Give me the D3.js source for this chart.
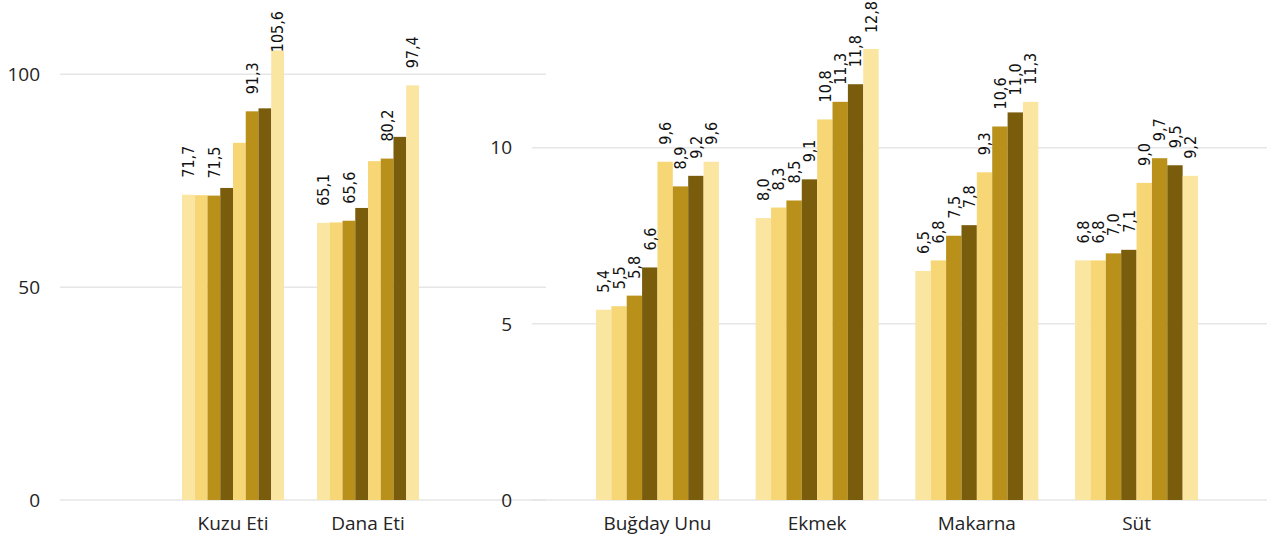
<!DOCTYPE html>
<html>
<head>
<meta charset="utf-8">
<script src="https://cdn.jsdelivr.net/npm/d3@7"></script>
<style>
  html, body { margin: 0; padding: 0; background: #fff; }
  svg { display: block; }
</style>
</head>
<body>
<svg id="chart" width="1283" height="536"></svg>
<script>
// ---- Data ----
const leftCategories = ["Kuzu Eti", "Dana Eti"];
const leftValues = [
  [71.7, 71.6, 71.5, 73.3, 83.9, 91.3, 92.0, 105.6],
  [65.1, 65.2, 65.6, 68.6, 79.6, 80.2, 85.3, 97.4]
];
// which values carry a visible data label in the left panel
const leftLabelShown = [
  [1, 0, 1, 0, 0, 1, 0, 1],
  [1, 0, 1, 0, 0, 1, 0, 1]
];
const leftTicks = [0, 50, 100];

const rightCategories = ["Buğday Unu", "Ekmek", "Makarna", "Süt"];
const rightValues = [
  [5.4, 5.5, 5.8, 6.6, 9.6, 8.9, 9.2, 9.6],
  [8.0, 8.3, 8.5, 9.1, 10.8, 11.3, 11.8, 12.8],
  [6.5, 6.8, 7.5, 7.8, 9.3, 10.6, 11.0, 11.3],
  [6.8, 6.8, 7.0, 7.1, 9.0, 9.7, 9.5, 9.2]
];
const rightTicks = [0, 5, 10];

const seriesColors = ["#FAE5A1", "#F7D775", "#B8901A", "#7A5D0C", "#F7D775", "#B8901A", "#7A5D0C", "#FAE5A1"];

// ---- Drawing ----
const svg = d3.select("#chart");
const fmt = v => d3.format(".1f")(v).replace(".", ",");
const seriesIdx = d3.range(8);

function panel(cfg) {
  const g = svg.append("g");
  const y = d3.scaleLinear().domain(cfg.yDomain).range([500, 0]);
  const x0 = d3.scaleBand().domain(cfg.categories).range(cfg.xRange).paddingInner(cfg.pad).paddingOuter(cfg.pad / 2);
  const x1 = d3.scaleBand().domain(seriesIdx).range([0, x0.bandwidth()]);

  // gridlines
  g.append("g").selectAll("line").data(cfg.ticks).join("line")
    .attr("x1", cfg.gridX[0]).attr("x2", cfg.gridX[1])
    .attr("y1", d => y(d)).attr("y2", d => y(d))
    .attr("stroke", "#E6E6E6").attr("stroke-width", 1.5);

  // y tick labels
  g.append("g").selectAll("text").data(cfg.ticks).join("text")
    .attr("x", cfg.tickX).attr("y", d => y(d))
    .attr("dy", "0.36em")
    .attr("text-anchor", "end")
    .style("font-family", "'Open Sans', 'Noto Sans', sans-serif")
    .style("font-size", "19px")
    .attr("fill", "#252423")
    .text(d => d);

  // bars
  const groups = g.append("g").selectAll("g").data(cfg.categories).join("g")
    .attr("transform", d => `translate(${x0(d)},0)`);
  groups.each(function(cat, ci) {
    const vals = cfg.values[ci];
    const gg = d3.select(this);
    gg.selectAll("rect").data(vals).join("rect")
      .attr("x", (d, i) => x1(i))
      .attr("width", x1.bandwidth())
      .attr("y", d => y(d))
      .attr("height", d => y(0) - y(d))
      .attr("fill", (d, i) => seriesColors[i]);
    const lab = vals.map((v, i) => ({ v, i })).filter(o => !cfg.shown || cfg.shown[ci][o.i]);
    gg.selectAll("text").data(lab).join("text")
      .attr("dy", "0.36em")
      .attr("text-anchor", "start")
      .style("font-family", "'DejaVu Sans Condensed', 'DejaVu Sans', sans-serif")
      .style("font-size", "16px")
      .attr("fill", "#111")
      .text(o => fmt(o.v))
      .attr("transform", function(o) {
        const len = this.getComputedTextLength();
        let base = y(o.v) - 17;
        if (base - len < cfg.labelTop) base = cfg.labelTop + len;
        return `translate(${x1(o.i) + x1.bandwidth() / 2},${base}) rotate(-90)`;
      });
  });

  // category labels
  g.append("g").selectAll("text").data(cfg.categories).join("text")
    .attr("x", d => x0(d) + x0.bandwidth() / 2)
    .attr("y", 530)
    .attr("text-anchor", "middle")
    .style("font-family", "'Open Sans', 'Noto Sans', sans-serif")
    .style("font-size", "19px")
    .attr("fill", "#252423")
    .text(d => d);
}

panel({
  categories: leftCategories, values: leftValues, shown: leftLabelShown, ticks: leftTicks,
  yDomain: [0, 117.45], xRange: [165.5, 435.5], pad: 0.245,
  gridX: [60, 546], tickX: 40, labelTop: 11
});
panel({
  categories: rightCategories, values: rightValues, shown: null, ticks: rightTicks,
  yDomain: [0, 14.19], xRange: [577.6, 1216.4], pad: 0.23,
  gridX: [532, 1267], tickX: 512, labelTop: 1
});
</script>
</body>
</html>
